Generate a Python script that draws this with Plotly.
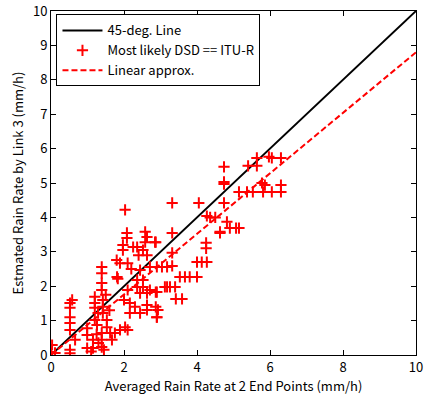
import plotly.graph_objects as go

line45_x = [0, 10]
line45_y = [0, 10]
lin_x = [0, 10]
lin_y = [0, 8.8]

pts_x = [4.74, 5.4, 5.64, 5.64, 5.97, 6.05, 6.3, 4.74, 4.74, 5.15, 5.37, 5.53, 5.78, 5.86, 5.81, 6.05, 6.3, 6.3,
         3.32, 4.05, 4.74, 4.27, 4.36, 4.5, 4.82, 4.63, 4.9, 5.07, 5.15, 4.63, 3.32, 2.87, 3.32, 4.25, 4.25,
         4.0, 4.13, 4.27, 3.53, 3.67, 3.8, 4.0, 3.12, 3.26, 3.4, 3.42, 3.59, 2.9, 3.04, 3.18, 3.32, 2.87, 2.87, 2.9,
         2.03, 2.08, 2.08, 1.97, 1.97, 2.25, 2.36, 2.58, 2.63, 2.58, 2.85, 2.52, 2.63, 1.89, 1.8, 2.1, 1.81, 1.83,
         1.39, 1.39, 1.39, 1.39, 1.2, 1.2, 1.2, 1.29, 1.2, 1.26, 1.42, 1.42, 1.42, 1.53, 1.53, 1.39, 1.39, 1.39,
         1.15, 1.15, 0.99, 0.99, 0.99, 1.62, 1.75, 1.89, 2.03, 2.1, 1.67, 0.52, 0.58, 0.52, 0.52, 0.52, 0.52,
         0.66, 0.52, 0.52, 0.03, 0.0, 0.11,
         2.1, 2.16, 2.3, 2.16, 2.44, 2.63, 2.63, 2.93, 2.9, 2.36, 2.36, 2.52, 2.52, 2.71, 2.9, 2.44, 2.71,
         2.44, 2.63, 3.18, 1.25, 1.3, 1.1, 1.45, 1.5, 1.6, 2.2, 2.4, 2.0]
pts_y = [5.47, 5.5, 5.73, 5.5, 5.76, 5.73, 5.73, 5.03, 4.97, 4.74, 4.74, 4.74, 5.0, 4.94, 4.74, 4.74, 4.94, 4.74,
         4.42, 4.42, 4.42, 4.04, 4.0, 4.0, 3.87, 3.58, 3.69, 3.69, 3.69, 3.55, 3.55, 3.28, 2.97, 3.26, 3.1,
         2.7, 2.7, 2.7, 2.27, 2.27, 2.27, 2.27, 1.98, 1.98, 1.98, 1.63, 1.63, 2.56, 2.56, 2.56, 2.59, 1.83, 1.4, 1.1,
         4.22, 3.55, 3.4, 3.2, 3.05, 3.14, 3.14, 3.58, 3.43, 3.28, 3.28, 3.05, 2.9, 2.67, 2.76, 2.67, 2.27, 2.22,
         2.56, 2.38, 2.09, 1.89, 1.69, 1.51, 1.37, 1.22, 1.02, 0.87, 1.6, 1.4, 1.22, 1.02, 0.81, 0.64, 0.44, 0.23,
         0.44, 0.2, 0.2, 0.78, 0.58, 0.64, 0.64, 0.73, 0.81, 0.73, 0.44, 1.51, 1.6, 1.37, 1.1, 0.93, 0.73,
         0.44, 0.15, 0.05, 0.29, 0.09, 0.06,
         1.89, 1.51, 1.4, 1.22, 1.22, 1.45, 1.31, 1.31, 1.1, 2.18, 1.98, 2.18, 1.98, 1.89, 1.83, 2.47, 2.56,
         1.8, 1.8, 1.98, 0.6, 0.35, 0.1, 0.15, 1.75, 1.3, 2.5, 2.9, 1.6]

font_family = "Noto Sans CJK JP, DejaVu Sans, sans-serif"

fig = go.Figure()
fig.add_trace(go.Scatter(x=line45_x, y=line45_y, mode="lines", name="45-deg. Line",
                         line=dict(color="black", width=2)))
fig.add_trace(go.Scatter(x=pts_x, y=pts_y, mode="markers", name="Most likely DSD == ITU-R",
                         marker=dict(symbol="cross-thin", size=8, color="red",
                                     line=dict(color="red", width=2))))
fig.add_trace(go.Scatter(x=lin_x, y=lin_y, mode="lines", name="Linear approx.",
                         line=dict(color="red", width=2, dash="6px,3px")))

axis_common = dict(range=[0, 10], dtick=1, showgrid=False, zeroline=False, showline=True,
                   linecolor="black", linewidth=1, mirror="ticks", ticks="inside", ticklen=5,
                   tickcolor="black", automargin=False,
                   tickfont=dict(size=13, color="black", family=font_family))
fig.update_xaxes(**axis_common)
fig.update_xaxes(dtick=2, title=dict(text="Averaged Rain Rate at 2 End Points (mm/h)",
                                     font=dict(size=13, color="black", family=font_family), standoff=4))
fig.update_yaxes(**axis_common)
fig.update_yaxes(title=dict(text="Estmated Rain Rate by Link 3 (mm/h)",
                            font=dict(size=13, color="black", family=font_family), standoff=6))

fig.update_layout(
    width=427, height=403,
    margin=dict(l=51, r=11, t=11, b=48),
    plot_bgcolor="white", paper_bgcolor="white",
    font=dict(family=font_family, size=13, color="black"),
    legend=dict(x=0.015, y=0.99, xanchor="left", yanchor="top", bgcolor="white",
                bordercolor="black", borderwidth=1, font=dict(size=13), itemwidth=40,
                tracegroupgap=0),
)
fig.write_html("out.html")
